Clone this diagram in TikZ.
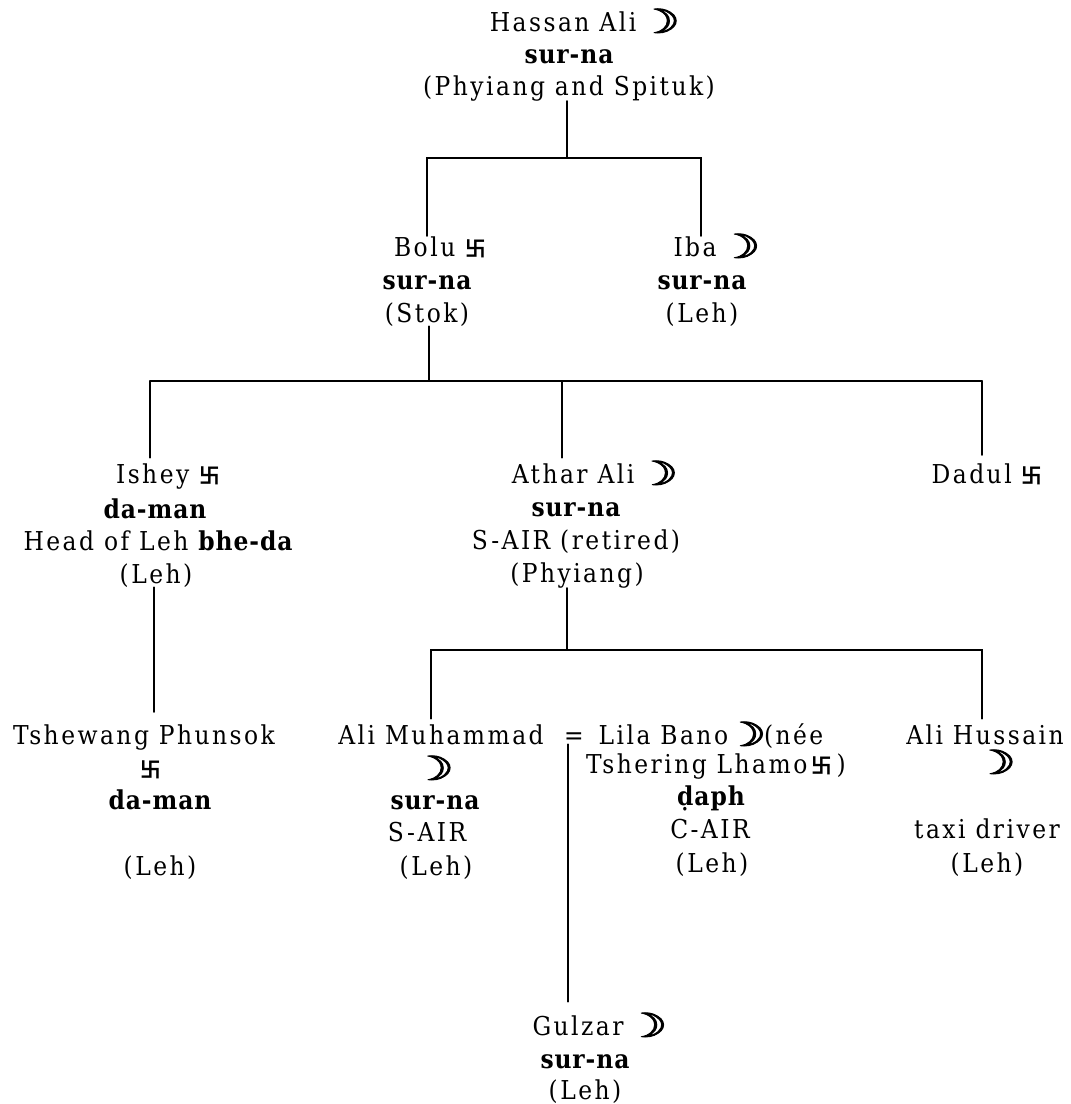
\documentclass[tikz,border=0pt]{standalone}
\usepackage{fontspec}
\setmainfont{DejaVu Serif Condensed}[LetterSpace=9.5]
\newfontfamily\boldtxt{DejaVu Serif Condensed Bold}[LetterSpace=3.5]
\newfontfamily\symfont{DejaVu Sans}[FakeBold=2.5]
\newfontfamily\cjkfont{Noto Sans CJK SC Bold}
\newcommand{\Mo}{\hspace{-7pt}\smash{\raisebox{-1.5pt}{\scalebox{1.45}[1]{\symfont\fontsize{25pt}{25pt}\selectfont\char"263D}}}\hspace{-5pt}}
\newcommand{\Sw}{\smash{\raisebox{-0.5pt}{\cjkfont\fontsize{15.5pt}{16pt}\selectfont\char"5350}}}
\newcommand{\Bd}[1]{{\boldtxt #1}}
\tikzset{
  txt/.style={anchor=base,inner sep=0pt,font=\fontsize{19.5pt}{23pt}\selectfont},
  conn/.style={line width=1.4pt,line cap=round,line join=miter,black}
}
\begin{document}
\begin{tikzpicture}[x=0.75pt,y=-0.75pt]
\useasboundingbox (0,0) rectangle (1071,1104);
% Hassan Ali
\node[txt] (hassan1) at (585,31) {Hassan Ali \Mo};
\node[txt] (hassan2) at (569,63) {\Bd{sur-na}};
\node[txt] (hassan3) at (569,95) {(Phyiang and Spituk)};
% Bolu
\node[txt] (bolu1) at (440,256) {Bolu \Sw};
\node[txt] (bolu2) at (427,289) {\Bd{sur-na}};
\node[txt] (bolu3) at (427,322) {(Stok)};
% Iba
\node[txt] (iba1) at (717,256) {Iba \Mo};
\node[txt] (iba2) at (702,289) {\Bd{sur-na}};
\node[txt] (iba3) at (702,322) {(Leh)};
% Ishey
\node[txt] (ishey1) at (168,483) {Ishey \Sw};
\node[txt] (ishey2) at (155,518) {\Bd{da-man}};
\node[txt] (ishey3) at (158,550) {Head of Leh \Bd{bhe-da}};
\node[txt] (ishey4) at (156,583) {(Leh)};
% Athar Ali
\node[txt] (athar1) at (595,483) {Athar Ali \Mo};
\node[txt] (athar2) at (576,516) {\Bd{sur-na}};
\node[txt] (athar3) at (576,549) {S-AIR (retired)};
\node[txt] (athar4) at (577,582) {(Phyiang)};
% Dadul
\node[txt] (dadul) at (987,483) {Dadul \Sw};
% Tshewang
\node[txt] (tsh1) at (144,744) {Tshewang Phunsok};
\node[txt] (tsh2) at (151,777) {\Sw};
\node[txt] (tsh3) at (160,809) {\Bd{da-man}};
\node[txt] (tsh4) at (160,875) {(Leh)};
% Ali Muhammad
\node[txt] (alim1) at (441,744) {Ali Muhammad};
\node[txt] (alim2) at (437,778) {\Mo};
\node[txt] (alim3) at (435,809) {\Bd{sur-na}};
\node[txt] (alim4) at (427,841) {S-AIR};
\node[txt] (alim5) at (436,875) {(Leh)};
\node[txt] (eq) at (574,744) {=};
% Lila Bano
\node[txt] (lila1) at (711,744) {Lila Bano\,\Mo\,(née};
\node[txt] (lila2) at (716,773) {Tshering Lhamo\,\Sw\,)};
\node[txt] (lila3) at (711,805) {\Bd{ḍaph}};
\node[txt] (lila4) at (710,838) {C-AIR};
\node[txt] (lila5) at (712,872) {(Leh)};
% Ali Hussain
\node[txt] (alih1) at (985,744) {Ali Hussain};
\node[txt] (alih2) at (999,772) {\Mo};
\node[txt] (alih3) at (987,838) {taxi driver};
\node[txt] (alih4) at (987,872) {(Leh)};
% Gulzar
\node[txt] (gulz1) at (600,1035) {Gulzar \Mo};
\node[txt] (gulz2) at (585,1068) {\Bd{sur-na}};
\node[txt] (gulz3) at (585,1099) {(Leh)};
% junctions
\coordinate (hL) at (427,158);
\coordinate (hM) at (567,158);
\coordinate (hR) at (701,158);
\coordinate (bL) at (150,381);
\coordinate (bS) at (429,381);
\coordinate (bM) at (562,381);
\coordinate (bR) at (982,381);
\coordinate (aL) at (431,650);
\coordinate (aS) at (567,650);
\coordinate (aR) at (982,650);
\coordinate (ishX) at (154,0);
\coordinate (gX) at (568,0);
% connectors
\draw[conn] (hassan3.south -| hM) -- (hM);
\draw[conn] (bolu1.north -| hL) -- (hL) -- (hR) -- (iba1.north -| hR);
\draw[conn] (bolu3.south -| bS) -- (bS);
\draw[conn,shorten >=4pt] (bL) -- (ishey1.north -| bL);
\draw[conn,shorten >=4pt] (bM) -- (athar1.north -| bM);
\draw[conn,shorten >=6pt] (bR) -- (dadul.north -| bR);
\draw[conn] (bL) -- (bR);
\draw[conn] (athar4.south -| aS) -- (aS);
\draw[conn,shorten <=4pt,shorten >=4pt] (alim1.north -| aL) -- (aL) -- (aR) -- (alih1.north -| aR);
\draw[conn,shorten >=9pt] (ishey4.south -| ishX) -- (tsh1.north -| ishX);
\draw[conn,shorten >=10pt] (eq.south -| gX) -- (gulz1.north -| gX);
\end{tikzpicture}
\end{document}
